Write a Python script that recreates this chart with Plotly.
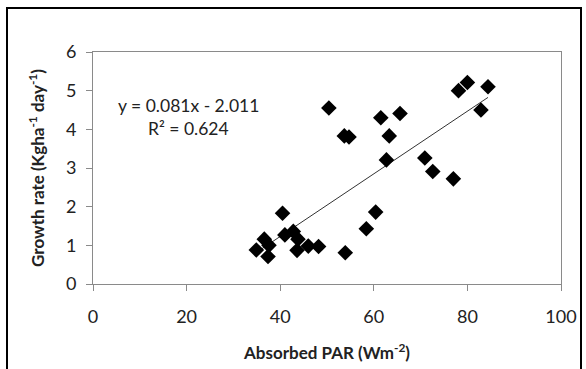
import plotly.graph_objects as go

# Data
absorbed_par = [34.9, 36.6, 37.4, 37.6, 40.5, 41.0, 42.8, 43.8, 43.6, 46.0, 48.2,
                50.4, 53.7, 54.7, 53.9, 58.4, 60.4, 61.5, 62.7, 63.3, 65.6,
                70.9, 72.6, 77.0, 78.1, 80.0, 82.9, 84.4]
growth_rate = [0.88, 1.16, 0.71, 1.00, 1.83, 1.27, 1.36, 1.16, 0.87, 0.98, 0.97,
               4.55, 3.83, 3.80, 0.81, 1.43, 1.86, 4.30, 3.21, 3.83, 4.41,
               3.26, 2.91, 2.72, 5.00, 5.21, 4.50, 5.10]
slope = 0.081
intercept = -2.011
r_squared = 0.624
x_ticks = [0, 20, 40, 60, 80, 100]
y_ticks = [0, 1, 2, 3, 4, 5, 6]

W, H = 586, 369
L, R, T, B = 93, 25, 52, 85
pw, ph = W - L - R, H - T - B

def px(x):
    return (x - L) / pw

def py(y):
    return (H - B - y) / ph

xmin, xmax = min(absorbed_par), max(absorbed_par)
trend_x = [xmin, xmax]
trend_y = [slope * v + intercept for v in trend_x]

FONT = "Lato"
TXT = "#222222"

fig = go.Figure()
fig.add_trace(go.Scatter(x=trend_x, y=trend_y, mode="lines",
                         line=dict(color="#333333", width=1), hoverinfo="skip"))
fig.add_trace(go.Scatter(x=absorbed_par, y=growth_rate, mode="markers",
                         marker=dict(symbol="diamond", size=12, color="black")))

axis_common = dict(showline=True, linecolor="#8a8a8a", linewidth=1, mirror=True,
                   ticks="outside", ticklen=6, tickcolor="#8a8a8a",
                   showgrid=False, zeroline=False, automargin=False,
                   tickfont=dict(family=FONT, size=18, color=TXT))

fig.update_layout(
    width=W, height=H,
    margin=dict(l=L, r=R, t=T, b=B),
    paper_bgcolor="white", plot_bgcolor="white",
    showlegend=False,
    xaxis=dict(range=[0, 100], tickvals=x_ticks, ticklabelstandoff=10, **axis_common,
               title=dict(text="Absorbed PAR (Wm<sup>-2</sup>)", standoff=21,
                          font=dict(family=FONT, size=17, color=TXT, weight="bold"))),
    yaxis=dict(range=[0, 6], tickvals=y_ticks, ticklabelstandoff=6, **axis_common,
               title=dict(text="Growth rate (Kgha<sup>-1</sup> day<sup>-1</sup>)", standoff=16,
                          font=dict(family=FONT, size=17, color=TXT, weight="bold"))),
    shapes=[dict(type="rect", xref="paper", yref="paper",
                 x0=px(7), x1=px(581), y0=py(372), y1=py(8),
                 line=dict(color="black", width=2))],
    annotations=[
        dict(text=f"y = {slope}x - {abs(intercept)}", xref="paper", yref="paper",
             x=px(188), y=py(105), showarrow=False, xanchor="center", yanchor="middle",
             font=dict(family=FONT, size=17.5, color=TXT)),
        dict(text=f"R² = {r_squared}", xref="paper", yref="paper",
             x=px(188), y=py(128), showarrow=False, xanchor="center", yanchor="middle",
             font=dict(family=FONT, size=17.5, color=TXT)),
    ],
)

fig.write_html("out.html")
